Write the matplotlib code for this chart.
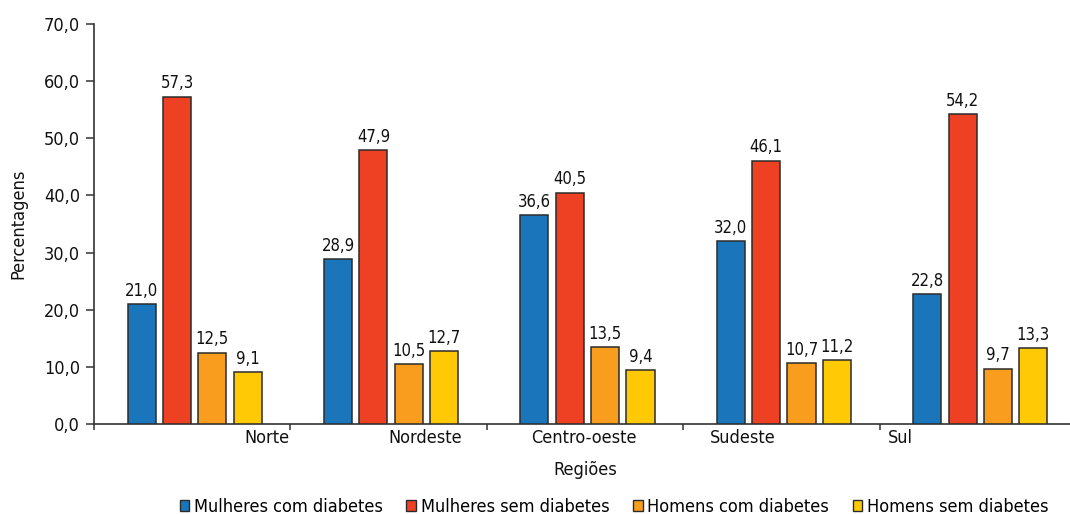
import numpy as np
import matplotlib
matplotlib.use("Agg")
import matplotlib.pyplot as plt
from matplotlib.patches import Patch

# Regional percentages by sex and diabetes status
regions = ["Norte", "Nordeste", "Centro-oeste", "Sudeste", "Sul"]
series_names = ["Mulheres com diabetes", "Mulheres sem diabetes",
                "Homens com diabetes", "Homens sem diabetes"]
mulheres_com = [21.0, 28.9, 36.6, 32.0, 22.8]
mulheres_sem = [57.3, 47.9, 40.5, 46.1, 54.2]
homens_com = [12.5, 10.5, 13.5, 10.7, 9.7]
homens_sem = [9.1, 12.7, 9.4, 11.2, 13.3]
yticks = [0, 10, 20, 30, 40, 50, 60, 70]

series = [mulheres_com, mulheres_sem, homens_com, homens_sem]
colors = ["#1B75BB", "#EE4123", "#F89D1E", "#FFCA05"]

plt.rcParams["font.family"] = ["DejaVu Sans"]
plt.rcParams["font.stretch"] = "condensed"
plt.rcParams["font.size"] = 13

fig = plt.figure(figsize=(10.70, 5.14), dpi=100)
W, H = 1070, 514
ax = fig.add_axes([94 / W, (H - 424) / H, 982 / W, 400 / H])

n = len(regions)
offset, width, step = 0.171, 0.143, 0.18
base = np.arange(n)
for k, (vals, col) in enumerate(zip(series, colors)):
    xs = base + offset + k * step
    bars = ax.bar(xs, vals, width=width, align="edge", color=col,
                  edgecolor="#2b2b2b", linewidth=1.1, zorder=3)
    for rect, v in zip(bars, vals):
        ax.annotate(f"{v:.1f}".replace(".", ","),
                    (rect.get_x() + rect.get_width() / 2, v),
                    xytext=(0, 3), textcoords="offset points",
                    ha="center", va="bottom", fontsize=12, color="#111111")

ax.set_xlim(0, n)
ax.set_ylim(0, 70)
ax.set_yticks(yticks)
ax.set_yticklabels([f"{t:.1f}".replace(".", ",") for t in yticks])

# tick marks at group boundaries, labels on their own positions
ax.set_xticks(np.arange(n + 1))
ax.set_xticklabels([])
ax.tick_params(axis="x", which="major", direction="out", length=4,
               width=1.1, color="#333333")
label_pos = 0.88 + 0.807 * np.arange(n)
for xp, name in zip(label_pos, regions):
    ax.text(xp, -2.45, name, ha="center", va="center", fontsize=13,
            color="#111111", transform=ax.transData, clip_on=False)

ax.tick_params(axis="y", direction="out", length=6, width=1.1,
               color="#333333", pad=4, labelcolor="#111111")

for s in ["top", "right"]:
    ax.spines[s].set_visible(False)
for s in ["left", "bottom"]:
    ax.spines[s].set_color("#333333")
    ax.spines[s].set_linewidth(1.2)

fig.text(585 / W, (H - 470) / H, "Regiões", ha="center", va="center",
         fontsize=13, color="#111111")
fig.text(18 / W, (H - 224) / H, "Percentagens", ha="center", va="center",
         rotation=90, fontsize=13, color="#111111")

handles = [Patch(facecolor=c, edgecolor="#2b2b2b", linewidth=1.0)
           for c in colors]
fig.legend(handles, series_names, loc="center", ncol=4,
           bbox_to_anchor=(614 / W, (H - 507) / H), frameon=False,
           handlelength=0.55, handleheight=0.55, handletextpad=0.25,
           columnspacing=1.3, fontsize=13)

fig.savefig("out.png", dpi=100, facecolor="white")
